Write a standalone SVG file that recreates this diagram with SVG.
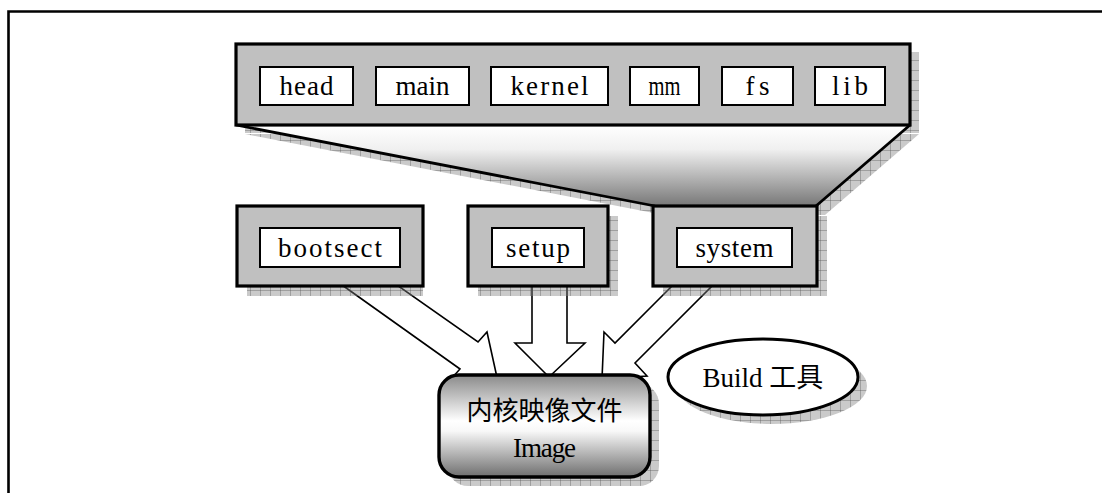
<svg xmlns="http://www.w3.org/2000/svg" width="1102" height="493" viewBox="0 0 1102 493">
<style>
.box{fill:#c0c0c0;stroke:#000;stroke-width:3.2}
.in{fill:#fff;stroke:#000;stroke-width:2}
.sh{fill:url(#grid);stroke:none}
.t{font-family:"Liberation Serif",serif;font-size:27px;text-anchor:middle;fill:#000}
.cjk{font-family:"Liberation Serif","Noto Sans CJK SC",sans-serif;text-anchor:middle;fill:#000}
.arrow{fill:#fff;stroke:#000;stroke-width:1.6;stroke-linejoin:miter}
.edge{fill:none;stroke:#000;stroke-width:2.8}
</style>
<defs>
<pattern id="grid" width="10" height="10" patternUnits="userSpaceOnUse">
<rect width="10" height="10" fill="#808080" fill-opacity="0.42"/>
<path d="M0,0.5H10M0.5,0V10" stroke="#505050" stroke-opacity="0.35" stroke-width="1"/>
</pattern>
<linearGradient id="funnelGrad" x1="0" y1="125" x2="0" y2="206" gradientUnits="userSpaceOnUse">
<stop offset="0" stop-color="#ffffff"/>
<stop offset="0.3" stop-color="#f0f0f0"/>
<stop offset="1" stop-color="#777777"/>
</linearGradient>
<linearGradient id="imgGrad" x1="0" y1="0" x2="0" y2="1">
<stop offset="0" stop-color="#8a8a8a"/>
<stop offset="0.45" stop-color="#ffffff"/>
<stop offset="0.55" stop-color="#f8f8f8"/>
<stop offset="1" stop-color="#6e6e6e"/>
</linearGradient>
</defs>
<rect width="1102" height="493" fill="#fff"/>
<path d="M8.5,493V11.5H1102" fill="none" stroke="#000" stroke-width="2.6"/>

<g id="connectors">
<polygon class="arrow" points="342,285 460,369 451,379 498,382 487,332 478,342 397,285"/>
<polygon class="arrow" points="532,285 532,343 515,343 549,377 585,343 567,343 567,285"/>
<polygon class="arrow" points="673,285 615,343 604,332 602,379 647,376 635,363 713,285"/>
</g>

<g id="system-modules">
<rect class="sh" x="245" y="52" width="674" height="81"/>
<polygon class="sh" points="245,134 919,134 825,215 664,215"/>
<polygon points="236,125 910,125 816,206 655,206" fill="url(#funnelGrad)"/>
<path class="edge" d="M236,125L655,206M910,125L816,206"/>
<rect class="box" x="236" y="44" width="674" height="81"/>
<g id="head"><rect class="in" x="260" y="67" width="93" height="38"/><text class="t" x="306.5" y="95" textLength="54" lengthAdjust="spacing">head</text></g>
<g id="main"><rect class="in" x="376" y="67" width="93" height="38"/><text class="t" x="422.5" y="95" textLength="54" lengthAdjust="spacing">main</text></g>
<g id="kernel"><rect class="in" x="491" y="67" width="117" height="38"/><text class="t" x="549.5" y="95" textLength="78" lengthAdjust="spacing">kernel</text></g>
<g id="mm"><rect class="in" x="630" y="67" width="69" height="38"/><text class="t" x="664.5" y="95" textLength="32" lengthAdjust="spacingAndGlyphs">mm</text></g>
<g id="fs"><rect class="in" x="722" y="67" width="71" height="38"/><text class="t" x="757.5" y="95" textLength="24" lengthAdjust="spacing">fs</text></g>
<g id="lib"><rect class="in" x="815" y="67" width="70" height="38"/><text class="t" x="850" y="95" textLength="36" lengthAdjust="spacing">lib</text></g>
</g>

<g id="bootsect">
<rect class="sh" x="247" y="216" width="176" height="80"/>
<rect class="box" x="237" y="206" width="186" height="80"/>
<rect class="in" x="260" y="228" width="140" height="39"/>
<text class="t" x="330" y="257" textLength="104" lengthAdjust="spacing">bootsect</text>
</g>
<g id="setup">
<rect class="sh" x="478" y="216" width="140" height="80"/>
<rect class="box" x="468" y="206" width="140" height="80"/>
<rect class="in" x="492" y="228" width="92" height="39"/>
<text class="t" x="538" y="257" textLength="64" lengthAdjust="spacing">setup</text>
</g>
<g id="system">
<rect class="sh" x="663" y="216" width="164" height="80"/>
<rect class="box" x="653" y="206" width="164" height="80"/>
<rect class="in" x="677" y="228" width="115" height="39"/>
<text class="t" x="734.5" y="257" textLength="78" lengthAdjust="spacing">system</text>
</g>

<g id="image">
<rect class="sh" x="448" y="384" width="211" height="102" rx="20"/>
<rect x="439" y="375" width="211" height="102" rx="20" fill="url(#imgGrad)" stroke="#000" stroke-width="3.4"/>
<text class="cjk" x="544.5" y="420" font-size="26">内核映像文件</text>
<text class="t" x="544.5" y="457" textLength="63" lengthAdjust="spacing">Image</text>
</g>

<g id="build">
<ellipse class="sh" cx="772" cy="386" rx="95" ry="38"/>
<ellipse cx="763" cy="377" rx="95" ry="38" fill="#fff" stroke="#000" stroke-width="3"/>
<text class="cjk" x="763" y="387" font-size="27">Build 工具</text>
</g>
</svg>
